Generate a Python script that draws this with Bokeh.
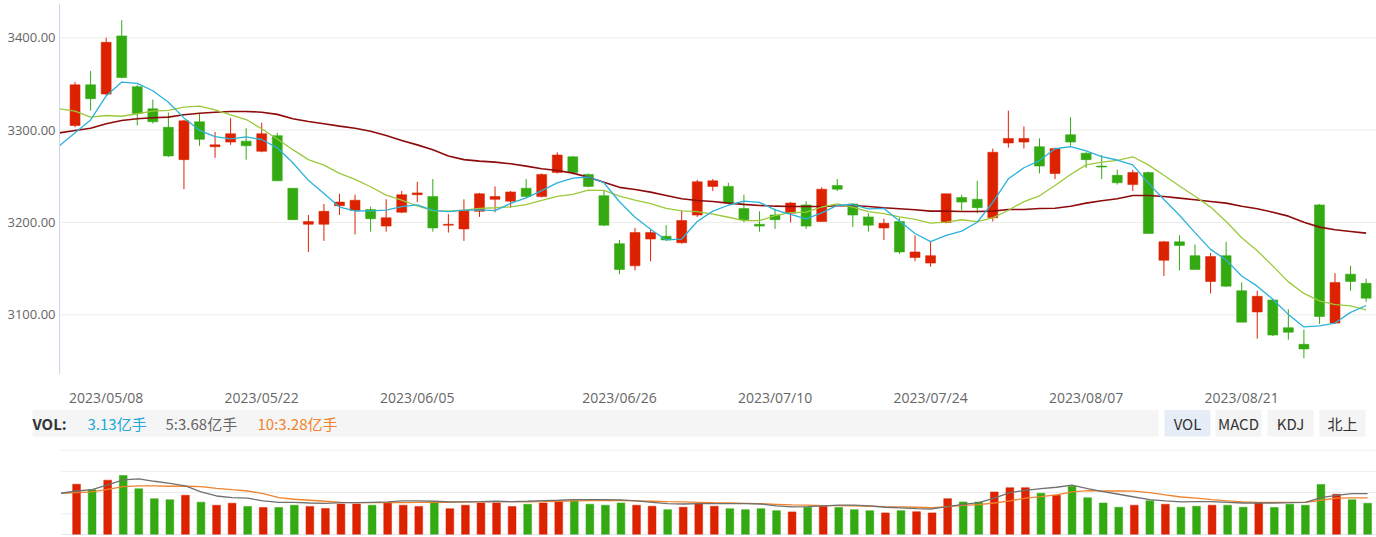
from bokeh.plotting import figure
from bokeh.layouts import column
from bokeh.models import ColumnDataSource, Range1d, FixedTicker, NumeralTickFormatter, LinearAxis
from bokeh.embed import file_html
from bokeh.resources import INLINE
from bokeh.core.properties import value

# ---------------- data ----------------
dates = [
    "2023/05/04", "2023/05/05", "2023/05/08", "2023/05/09", "2023/05/10", "2023/05/11", "2023/05/12",
    "2023/05/15", "2023/05/16", "2023/05/17", "2023/05/18", "2023/05/19", "2023/05/22", "2023/05/23",
    "2023/05/24", "2023/05/25", "2023/05/26", "2023/05/29", "2023/05/30", "2023/05/31",
    "2023/06/01", "2023/06/02", "2023/06/05", "2023/06/06", "2023/06/07", "2023/06/08", "2023/06/09",
    "2023/06/12", "2023/06/13", "2023/06/14", "2023/06/15", "2023/06/16", "2023/06/19", "2023/06/20",
    "2023/06/21", "2023/06/26", "2023/06/27", "2023/06/28", "2023/06/29", "2023/06/30",
    "2023/07/03", "2023/07/04", "2023/07/05", "2023/07/06", "2023/07/07", "2023/07/10", "2023/07/11",
    "2023/07/12", "2023/07/13", "2023/07/14", "2023/07/17", "2023/07/18", "2023/07/19", "2023/07/20",
    "2023/07/21", "2023/07/24", "2023/07/25", "2023/07/26", "2023/07/27", "2023/07/28", "2023/07/31",
    "2023/08/01", "2023/08/02", "2023/08/03", "2023/08/04", "2023/08/07", "2023/08/08", "2023/08/09",
    "2023/08/10", "2023/08/11", "2023/08/14", "2023/08/15", "2023/08/16", "2023/08/17", "2023/08/18",
    "2023/08/21", "2023/08/22", "2023/08/23", "2023/08/24", "2023/08/25", "2023/08/28", "2023/08/29",
    "2023/08/30", "2023/08/31",
]
tick_dates = ["2023/05/08", "2023/05/22", "2023/06/05", "2023/06/26",
              "2023/07/10", "2023/07/24", "2023/08/07", "2023/08/21"]

opens = [3305, 3349, 3339, 3402, 3347, 3323, 3303, 3268, 3309, 3282, 3287, 3288, 3277, 3294, 3237, 3198,
         3198, 3218, 3213, 3214, 3196, 3211, 3230, 3228, 3197, 3193, 3212, 3225, 3223, 3237, 3228, 3254,
         3271, 3252, 3229, 3177, 3153, 3182, 3185, 3178, 3208, 3239, 3239, 3215, 3198, 3208, 3210, 3219,
         3201, 3240, 3220, 3206, 3194, 3201, 3162, 3156, 3200, 3227, 3225, 3205, 3286, 3287, 3282, 3253,
         3295, 3275, 3261, 3251, 3241, 3254, 3159, 3179, 3164, 3136, 3164, 3126, 3103, 3116, 3086, 3068,
         3219, 3091, 3144, 3134]
highs = [3352, 3364, 3400, 3419, 3349, 3333, 3319, 3311, 3318, 3298, 3313, 3302, 3308, 3297, 3237, 3208,
         3220, 3231, 3230, 3217, 3225, 3234, 3244, 3247, 3209, 3225, 3232, 3239, 3234, 3247, 3253, 3276,
         3272, 3253, 3235, 3181, 3194, 3192, 3197, 3213, 3246, 3247, 3243, 3230, 3212, 3215, 3222, 3223,
         3238, 3247, 3221, 3210, 3204, 3205, 3186, 3179, 3231, 3230, 3245, 3280, 3321, 3304, 3291, 3281,
         3314, 3276, 3273, 3257, 3257, 3255, 3180, 3186, 3176, 3167, 3179, 3135, 3126, 3117, 3106, 3084,
         3220, 3145, 3153, 3139]
lows = [3303, 3321, 3338, 3356, 3305, 3307, 3271, 3236, 3283, 3270, 3284, 3268, 3276, 3245, 3203, 3168,
        3180, 3208, 3187, 3190, 3190, 3210, 3222, 3190, 3189, 3180, 3206, 3211, 3216, 3227, 3227, 3253,
        3252, 3238, 3196, 3144, 3148, 3158, 3180, 3177, 3206, 3234, 3220, 3200, 3190, 3193, 3200, 3193,
        3201, 3234, 3195, 3190, 3181, 3166, 3158, 3152, 3199, 3213, 3210, 3201, 3281, 3280, 3253, 3247,
        3283, 3259, 3247, 3241, 3234, 3188, 3142, 3148, 3149, 3123, 3130, 3092, 3074, 3077, 3073, 3053,
        3090, 3090, 3126, 3114]
closes = [3349, 3334, 3395, 3357, 3318, 3309, 3272, 3310, 3290, 3284, 3296, 3283, 3296, 3245, 3203, 3201,
          3212, 3222, 3224, 3204, 3205, 3230, 3232, 3194, 3198, 3213, 3231, 3228, 3233, 3228, 3252, 3273,
          3254, 3239, 3197, 3149, 3189, 3189, 3181, 3202, 3244, 3245, 3221, 3203, 3196, 3203, 3221, 3196,
          3236, 3236, 3208, 3197, 3199, 3168, 3168, 3164, 3231, 3222, 3216, 3276, 3291, 3291, 3261, 3280,
          3287, 3268, 3260, 3243, 3254, 3188, 3179, 3175, 3149, 3163, 3131, 3092, 3120, 3078, 3081, 3063,
          3098, 3135, 3136, 3118]

# moving-average lines (first point = the trading day before 2023/05/04)
ma5 = [3283, 3297, 3311, 3337, 3352, 3350.6, 3342.6, 3330.2, 3313.2, 3299.8, 3293.0, 3290.4, 3292.6,
       3289.8, 3280.8, 3264.6, 3245.6, 3231.4, 3216.6, 3212.4, 3212.6, 3213.4, 3217.0, 3219.0, 3213.0,
       3211.8, 3213.4, 3213.6, 3212.8, 3220.6, 3226.6, 3234.4, 3242.8, 3248.0, 3249.2, 3243.0, 3222.4,
       3205.6, 3192.6, 3181.0, 3182.0, 3201.0, 3212.2, 3218.6, 3223.0, 3221.8, 3213.6, 3208.8, 3203.8,
       3210.4, 3218.4, 3219.4, 3214.6, 3215.2, 3201.6, 3188.0, 3179.2, 3186.0, 3190.6, 3200.2, 3221.8,
       3247.2, 3259.2, 3267.0, 3279.8, 3282.0, 3277.4, 3271.2, 3267.6, 3262.4, 3242.6, 3224.8, 3207.8,
       3189.0, 3170.8, 3159.4, 3142.0, 3131.0, 3116.8, 3100.4, 3086.8, 3088.0, 3091.0, 3102.6, 3110.0]
ma10 = [3323, 3320.5, 3314, 3315.8, 3315, 3317.7, 3320.5, 3321.3, 3324.8, 3326, 3321.8, 3316.5, 3311.4,
        3301.5, 3290.3, 3278.8, 3268.0, 3262.0, 3253.2, 3246.6, 3238.6, 3229.5, 3224.2, 3217.8, 3212.7,
        3212.2, 3213.4, 3215.3, 3215.9, 3216.8, 3219.2, 3223.9, 3228.2, 3230.4, 3234.9, 3234.8, 3228.4,
        3224.2, 3220.3, 3215.1, 3212.5, 3211.7, 3208.9, 3205.6, 3202.0, 3201.9, 3207.3, 3210.5, 3211.2,
        3216.7, 3220.1, 3216.5, 3211.7, 3209.5, 3206.0, 3203.2, 3199.3, 3200.3, 3202.9, 3200.9, 3204.9,
        3213.2, 3222.6, 3228.8, 3240.0, 3251.9, 3262.3, 3265.2, 3267.3, 3271.1, 3262.3, 3251.1, 3239.5,
        3228.3, 3216.6, 3201.0, 3183.4, 3169.4, 3152.9, 3135.6, 3123.1, 3115.0, 3111.0, 3109.7, 3105.2]
ma30 = [3297, 3299.6, 3302, 3306.9, 3310.4, 3312.3, 3313.4, 3314, 3316.6, 3318.3, 3319.4, 3320.2, 3320.2,
        3319.4, 3317, 3312.3, 3309.3, 3306.9, 3304.3, 3302, 3298.8, 3294.2, 3288.8, 3284, 3278.7, 3272,
        3268, 3266.4, 3265.3, 3263.5, 3261, 3258.2, 3256.3, 3253.4, 3249, 3243.6, 3238, 3235.7, 3232.8,
        3229.2, 3225.6, 3223.8, 3222.7, 3220.9, 3219.5, 3218.4, 3217.6, 3217.3, 3217.3, 3217.3, 3218,
        3218.4, 3217.3, 3215.9, 3214.8, 3213.7, 3212.2, 3212.2, 3211.9, 3211.9, 3212.2, 3214, 3214, 3215,
        3215.4, 3217.6, 3220.9, 3223.4, 3225.6, 3229.2, 3229.2, 3228, 3226.3, 3224.5, 3222.7, 3220.9,
        3217.6, 3214.8, 3211.1, 3206.8, 3200.3, 3194.9, 3192, 3190.2, 3188.4]

# volume in 亿手
volumes = [5.00, 4.46, 5.40, 5.86, 4.55, 3.57, 3.47, 3.91, 3.23, 2.93, 3.13, 2.81, 2.71, 2.71, 2.93, 2.81,
           2.61, 3.05, 3.05, 2.93, 3.16, 2.93, 2.81, 3.15, 2.59, 2.93, 3.15, 3.15, 2.81, 3.02, 3.15, 3.28,
           3.38, 3.03, 2.93, 3.15, 2.93, 2.83, 2.49, 2.73, 3.08, 2.83, 2.59, 2.49, 2.59, 2.39, 2.27, 2.73,
           2.84, 2.71, 2.49, 2.39, 2.17, 2.39, 2.29, 2.17, 3.58, 3.25, 3.25, 4.24, 4.66, 4.66, 4.11, 3.91,
           4.80, 3.67, 3.15, 2.73, 2.93, 3.38, 3.03, 2.73, 2.83, 2.93, 2.93, 2.73, 3.17, 2.71, 3.03, 2.93,
           4.98, 4.01, 3.47, 3.13]
vol_ma5 = [4.11, 4.33, 4.46, 4.93, 5.42, 5.52, 5.29, 5.09, 4.83, 4.24, 3.84, 3.67, 3.62, 3.35, 3.22, 3.22,
           3.15, 3.12, 3.18, 3.18, 3.22, 3.25, 3.35, 3.35, 3.32, 3.25, 3.25, 3.28, 3.32, 3.28, 3.32, 3.38,
           3.42, 3.48, 3.48, 3.48, 3.45, 3.35, 3.22, 3.08, 3.05, 3.08, 3.08, 3.08, 3.08, 3.05, 2.86, 2.76,
           2.79, 2.86, 2.93, 2.93, 2.86, 2.73, 2.66, 2.59, 2.56, 2.79, 3.02, 3.18, 3.62, 4.17, 4.40, 4.56,
           4.70, 4.90, 4.56, 4.27, 4.01, 3.74, 3.48, 3.35, 3.25, 3.28, 3.28, 3.22, 3.15, 3.15, 3.15, 3.18,
           3.22, 3.67, 3.91, 4.07, 4.07]
vol_ma10 = [4.11, 4.17, 4.24, 4.50, 4.76, 4.83, 4.83, 4.80, 4.80, 4.76, 4.60, 4.46, 4.33, 4.07, 3.67, 3.52,
            3.42, 3.32, 3.22, 3.18, 3.18, 3.18, 3.18, 3.22, 3.22, 3.22, 3.25, 3.25, 3.28, 3.28, 3.25, 3.28,
            3.32, 3.35, 3.38, 3.38, 3.38, 3.35, 3.32, 3.28, 3.25, 3.22, 3.18, 3.15, 3.12, 3.08, 3.02, 2.96,
            2.93, 2.89, 2.89, 2.86, 2.83, 2.79, 2.76, 2.73, 2.69, 2.79, 2.91, 2.99, 3.15, 3.35, 3.62, 3.77,
            3.94, 4.24, 4.36, 4.33, 4.33, 4.31, 4.17, 3.94, 3.74, 3.62, 3.48, 3.35, 3.25, 3.22, 3.22, 3.22,
            3.22, 3.42, 3.62, 3.65, 3.65]
vol_label_now, vol_label_ma5, vol_label_ma10 = 3.13, 3.68, 3.28
price_ticks = [3100, 3200, 3300, 3400]
vol_grid = [2.09, 4.18, 6.27, 8.36]
buttons = ["VOL", "MACD", "KDJ", "北上"]

# ---------------- styling ----------------
RED, GREEN = "#dd2200", "#33aa11"
C_MA5, C_MA10, C_MA30 = "#2bb2da", "#9cc93a", "#8e0b0b"
C_VMA5, C_VMA10 = "#707070", "#f0832c"
FONT = "Open Sans"
W = 1376
X0, X1 = -4.793, 83.667          # category index range across the full width

idx = list(range(len(dates)))
ma_x = list(range(-1, len(dates)))
colors = [RED if c >= o else GREEN for o, c in zip(opens, closes)]
src = ColumnDataSource(dict(
    x=idx, h=highs, l=lows,
    top=[max(o, c) for o, c in zip(opens, closes)],
    bot=[min(o, c) for o, c in zip(opens, closes)],
    color=colors, vol=volumes))

# ---------------- main candlestick chart ----------------
p = figure(width=W, height=409, x_range=Range1d(X0, X1), y_range=Range1d(3035.3, 3437.1),
           y_axis_type=None, output_backend="svg", toolbar_location=None,
           min_border_left=0, min_border_right=0, min_border_top=3, min_border_bottom=35)
p.outline_line_color = None
p.grid.visible = False

p.segment(x0=[-1] * len(price_ticks), x1=[X1] * len(price_ticks), y0=price_ticks, y1=price_ticks,
          line_color="#ececec", line_width=1)

p.segment(x0="x", y0="l", x1="x", y1="h", line_color="color", line_width=1, source=src)
p.vbar(x="x", top="top", bottom="bot", width=0.64, fill_color="color",
       line_color="color", line_alpha=0.55, line_width=1, source=src)

p.line(ma_x, ma30, line_color=C_MA30, line_width=1.6)
p.line(ma_x, ma10, line_color=C_MA10, line_width=1.3)
p.line(ma_x, ma5, line_color=C_MA5, line_width=1.3)

yax = LinearAxis(fixed_location=-1, ticker=FixedTicker(ticks=price_ticks),
                 formatter=NumeralTickFormatter(format="0.00"))
yax.axis_line_color = "#ccd6eb"
yax.major_tick_in = 0
yax.major_tick_out = 0
yax.minor_tick_in = 0
yax.minor_tick_out = 0
yax.major_label_text_color = "#666666"
yax.major_label_text_font = FONT
yax.major_label_text_font_size = "13px"
yax.major_label_standoff = 4
p.add_layout(yax, "left")

tick_idx = [dates.index(d) for d in tick_dates]
p.xaxis.ticker = FixedTicker(ticks=tick_idx)
p.xaxis.major_label_overrides = {i: d for i, d in zip(tick_idx, tick_dates)}
p.xaxis.axis_line_color = None
p.xaxis.major_tick_in = 0
p.xaxis.major_tick_out = 0
p.xaxis.minor_tick_in = 0
p.xaxis.minor_tick_out = 0
p.xaxis.major_label_text_color = "#666666"
p.xaxis.major_label_text_font = FONT
p.xaxis.major_label_text_font_size = "14px"
p.xaxis.major_label_standoff = 13

# ---------------- indicator header ----------------
hd = figure(width=W, height=40, x_range=Range1d(0, W), y_range=Range1d(40, 0),
            output_backend="svg", toolbar_location=None, x_axis_type=None, y_axis_type=None,
            min_border_left=0, min_border_right=0, min_border_top=0, min_border_bottom=0)
hd.outline_line_color = None
hd.grid.visible = False
hd.quad(left=[32], right=[1158], top=[0.3], bottom=[27], fill_color="#f5f5f5", line_color=None)
b_left = [1164, 1215, 1267, 1319]
b_right = [1210, 1261, 1313, 1365]
hd.quad(left=b_left, right=b_right, top=[0.3] * 4, bottom=[27] * 4,
        fill_color=["#e6edf7", "#f4f4f4", "#f4f4f4", "#f4f4f4"], line_color=None)
CJK = value("Noto Sans CJK SC")
hd.text(x=[32], y=[14], text=["VOL:"], text_font=CJK, text_font_size="15px",
        text_font_style="bold", text_color="#333333", text_baseline="middle")
hd.text(x=[87, 165, 257], y=[14, 14, 14],
        text=[f"{vol_label_now:.2f}亿手", f"5:{vol_label_ma5:.2f}亿手", f"10:{vol_label_ma10:.2f}亿手"],
        text_font=CJK, text_font_size="15px",
        text_color=["#21a8da", "#666666", "#f0832c"], text_baseline="middle")
hd.text(x=[(a + b) / 2 for a, b in zip(b_left, b_right)], y=[14] * 4, text=buttons,
        text_font=CJK, text_font_size="15px", text_color="#333333",
        text_align="center", text_baseline="middle")

# ---------------- volume chart ----------------
VX0, VX1 = X0 - 0.096, X1 - 0.096
v = figure(width=W, height=86, x_range=Range1d(VX0, VX1), y_range=Range1d(-0.053, 8.42),
           output_backend="svg", toolbar_location=None, x_axis_type=None, y_axis_type=None,
           min_border_left=0, min_border_right=0, min_border_top=0, min_border_bottom=0)
v.outline_line_color = None
v.grid.visible = False
v.segment(x0=[-1] * len(vol_grid), x1=[VX1] * len(vol_grid), y0=vol_grid, y1=vol_grid,
          line_color="#e8ecf1", line_width=1)
v.vbar(x="x", top="vol", bottom=0, width=0.5, fill_color="color", line_color="color",
       line_alpha=0.5, source=src)
v.line(ma_x, vol_ma10, line_color=C_VMA10, line_width=1.3)
v.line(ma_x, vol_ma5, line_color=C_VMA5, line_width=1.3)
v.segment(x0=[-1], x1=[VX1], y0=[0], y1=[0], line_color="#ccd6eb", line_width=1)

layout = column(p, hd, v, spacing=0)
open("out.html", "w").write(file_html(layout, INLINE))
